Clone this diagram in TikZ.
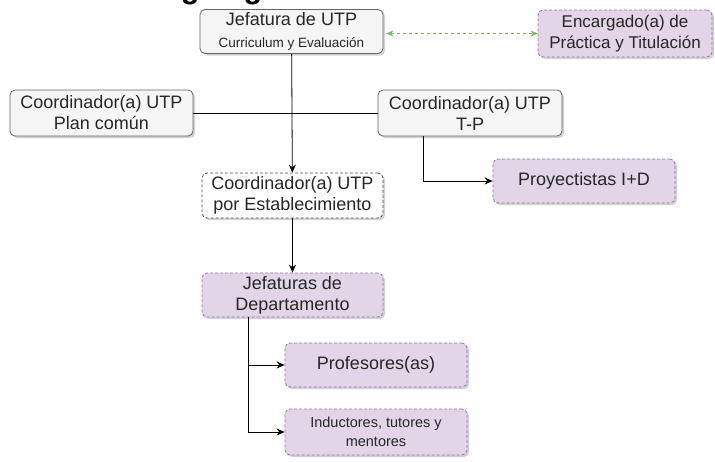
\documentclass[tikz,border=0pt]{standalone}
\usepackage{fontspec}
\setmainfont{Liberation Sans}
\usetikzlibrary{shapes,arrows.meta,positioning,shadows,calc}
\definecolor{grayfill}{HTML}{F5F5F5}
\definecolor{graydraw}{HTML}{666666}
\definecolor{lilafill}{HTML}{E1D5E7}
\definecolor{liladraw}{HTML}{9673A6}
\definecolor{verde}{HTML}{82B366}

\begin{document}
\begin{tikzpicture}[x=1pt, y=-1pt,
  box/.style={rectangle, rounded corners=5pt, align=center, text=black!85, inner sep=0pt,
    line width=0.8pt, font=\fontsize{18}{21}\selectfont,
    drop shadow={shadow xshift=2pt, shadow yshift=-2pt, opacity=0.3, fill=black!60}},
  graybox/.style={box, draw=graydraw, fill=grayfill},
  dashbox/.style={box, draw=black!70, dash pattern=on 3pt off 2pt, fill=white},
  lilabox/.style={box, draw=liladraw, dash pattern=on 3pt off 2pt, fill=lilafill},
  link/.style={draw=black, line width=0.8pt},
  arrowto/.style={-{Stealth[length=8pt,width=7pt]}}
]
\useasboundingbox (0,0) rectangle (715,461);

% Title (cut off at the top)
\begin{scope}
\clip (0,0) rectangle (715,461);
\node[anchor=base west, inner sep=0pt, font=\bfseries\fontsize{30.5}{36}\selectfont] (title) at (145,-1.3) {Organigrama};
\end{scope}

% Boxes
\node[graybox, minimum width=183pt, minimum height=44pt] (jefe) at (291.5,31.5)
  {Jefatura de UTP\\[1pt]{\fontsize{13.5}{16}\selectfont Curriculum y Evaluación}};
\node[lilabox, minimum width=174pt, minimum height=47pt, font=\fontsize{17}{21}\selectfont] (enc) at (625,33.5)
  {Encargado(a) de\\Práctica y Titulación};
\node[graybox, minimum width=183pt, minimum height=46pt] (plan) at (101.5,113) {Coordinador(a) UTP\\Plan común};
\node[graybox, minimum width=184pt, minimum height=46pt] (tp) at (470,113) {Coordinador(a) UTP\\T-P};
\node[lilabox, minimum width=182pt, minimum height=44pt] (proy) at (584,181) {Proyectistas I+D};
\node[dashbox, minimum width=181pt, minimum height=45pt] (estab) at (292.5,195.5) {Coordinador(a) UTP\\por Establecimiento};
\node[lilabox, minimum width=181pt, minimum height=44pt] (dept) at (292.5,295) {Jefaturas de\\Departamento};
\node[lilabox, minimum width=182pt, minimum height=44pt] (prof) at (376,365) {Profesores(as)};
\node[lilabox, minimum width=182pt, minimum height=46pt, font=\fontsize{14.5}{19}\selectfont] (ind) at (376,432)
  {Inductores, tutores y\\mentores};

% Connectors
\draw[link] (plan) -- (tp);
\draw[link, arrowto] (jefe) -- (estab);
\draw[link, arrowto] (estab) -- (dept);
\draw[link, arrowto] ([xshift=-47pt]tp.south) |- (proy);
\draw[link, arrowto] ([xshift=-44.5pt]dept.south) |- (prof);
\draw[link, arrowto] ([xshift=-44.5pt]dept.south) |- (ind);
\draw[verde, line width=0.8pt, dash pattern=on 3pt off 3pt, {Stealth[length=7pt,width=6pt]}-{Stealth[length=7pt,width=6pt]}]
  ([xshift=3pt]jefe.east |- enc.west) -- (enc.west);
\end{tikzpicture}
\end{document}
